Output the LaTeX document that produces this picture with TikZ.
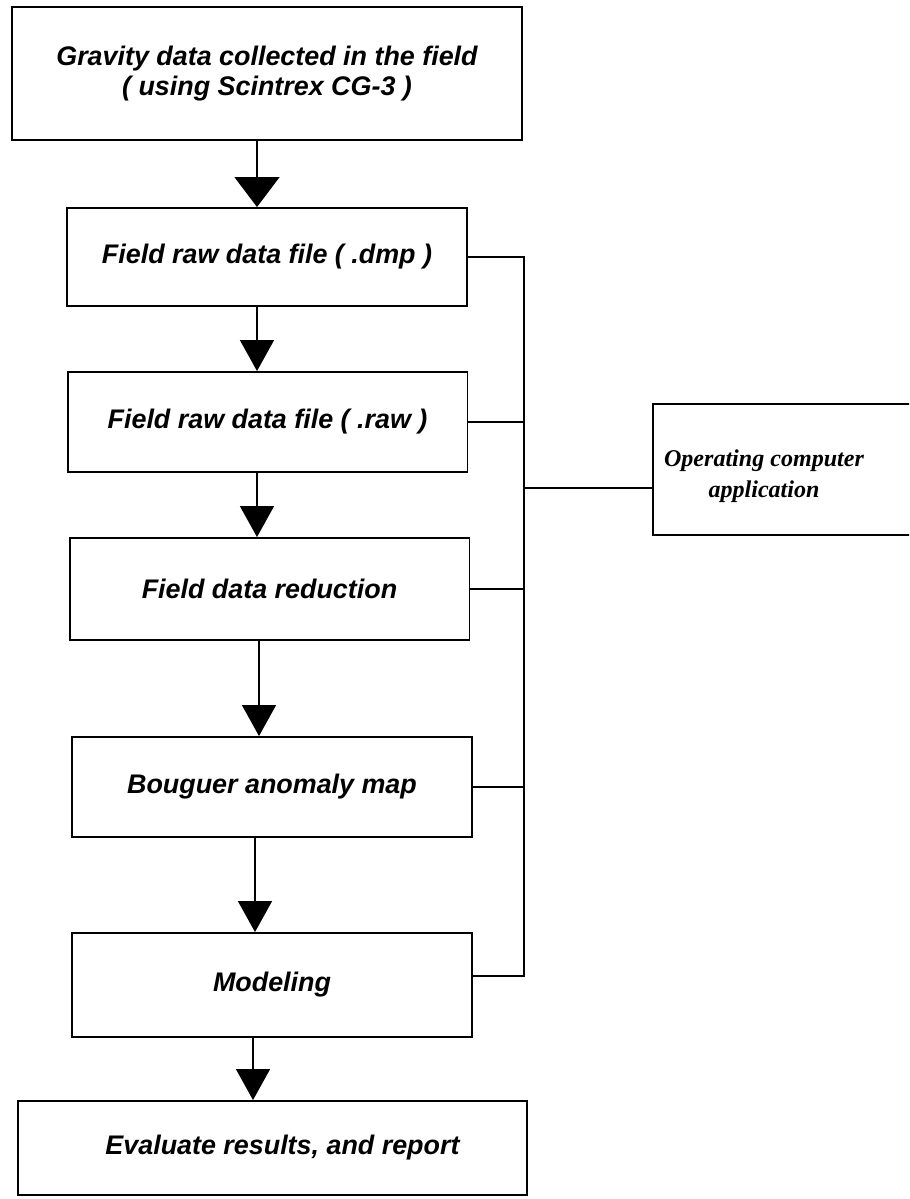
\documentclass[tikz,border=0pt]{standalone}
\usepackage{fontspec}
\setmainfont{Liberation Sans}
\newfontfamily\opfont{Liberation Serif}
\usetikzlibrary{arrows.meta}

\tikzset{
  stage/.style={draw, line width=1.1pt, minimum width=8cm, align=center, inner sep=0pt,
    font=\fontsize{15.3}{17}\selectfont\bfseries\itshape},
  optext/.style={align=center, inner sep=0pt,
    font=\opfont\fontsize{13.7}{17.6}\selectfont\bfseries\itshape},
  flow/.style={line width=0.8pt, -{Triangle[width=0.68cm, length=0.62cm]}},
  link/.style={line width=0.6pt},
}

\begin{document}
\begin{tikzpicture}[x=0.02cm, y=-0.02cm]
	\useasboundingbox (0,0) rectangle (909,1199);
	\clip (0,0) rectangle (909,1199);
	\node[stage, minimum width=10.2cm, minimum height=2.66cm] (b1) at (267,73.5) {Gravity data collected in the field\\( using Scintrex CG-3 )};
	\node[stage, minimum height=1.96cm] (b2) at (267,257) {Field raw data file ( .dmp )};
	\node[stage, minimum height=2cm] (b3) at (267.5,422) {Field raw data file ( .raw )};
	\node[stage, minimum height=2.04cm] (b4) at (269.5,589) {Field data reduction};
	\node[stage, minimum height=2cm] (b5) at (272,787) {Bouguer anomaly map};
	\node[stage, minimum height=2.08cm] (b6) at (272,985) {Modeling};
	\node[stage, minimum width=10.18cm, minimum height=1.88cm] (b7) at (272.5,1148) {\hspace*{0.4cm}Evaluate results, and report};
	\node[stage, minimum width=5.54cm, minimum height=2.62cm] (op) at (791.5,469.5) {};
	\node[optext] (optx) at (764,476) {Operating computer\\application};
	\draw[flow, -{Triangle[width=0.9cm, length=0.6cm]}] ([xshift=-0.2cm]b1.south) -- ([xshift=-0.2cm]b1.south |- b2.north);
	\foreach \a/\b/\s in {b2/b3/-0.2, b3/b4/-0.21, b4/b5/-0.21, b5/b6/-0.34, b6/b7/-0.38}
		\draw[flow] ([xshift=\s cm]\a.south) -- ([xshift=\s cm]\a.south |- \b.north);
	\coordinate (bus) at (524,0);
	\draw[link] (b2.east) -- (b2.east -| bus) -- ([yshift=0.18cm]b6.east -| bus) -- ([yshift=0.18cm]b6.east);
	\foreach \n in {b3,b4,b5} \draw[link] (\n.east) -- (\n.east -| bus);
	\draw[link] ([yshift=-0.37cm]op.west) -- ([yshift=-0.37cm]op.west -| bus);
\end{tikzpicture}
\end{document}
